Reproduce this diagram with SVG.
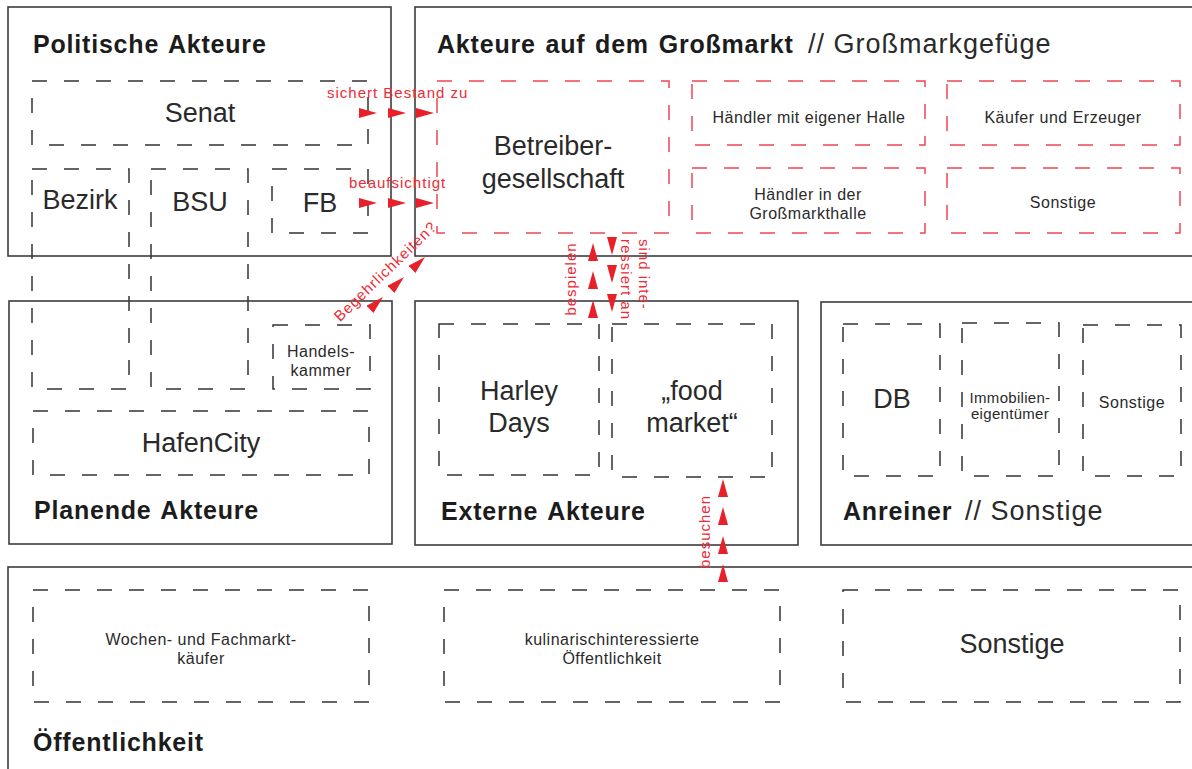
<svg xmlns="http://www.w3.org/2000/svg" width="1192" height="769" viewBox="0 0 1192 769">
<defs>
<style>
.frame{fill:none;stroke:#3c3c3c;stroke-width:1.6}
.dash{fill:none;stroke:#333;stroke-width:1.5;stroke-dasharray:15 17}
.rdash{fill:none;stroke:#f04652;stroke-width:1.5;stroke-dasharray:15 17}
text{font-family:"Liberation Sans",Arial,sans-serif;fill:#2a2a2a}
.h{font-size:25px;font-weight:bold;letter-spacing:0.8px;word-spacing:2px;fill:#1c1c1c}
.hr{font-weight:normal;font-size:27px;letter-spacing:1px;word-spacing:0;fill:#2a2a2a}
.big{font-size:27px;text-anchor:middle}
.sm{font-size:16px;letter-spacing:0.5px;text-anchor:middle}
.xs{font-size:15px;letter-spacing:0.3px;text-anchor:middle}
.red{font-size:15px;letter-spacing:1px;fill:#ee2a36}
.arrows{fill:none;stroke:none}
</style>
<marker id="tri" viewBox="0 0 18 10" refX="18" refY="5" markerWidth="18" markerHeight="10" markerUnits="userSpaceOnUse" orient="auto"><path d="M0,0 L18,5 L0,10 Z" fill="#e8202a"/></marker>
</defs>
<rect x="0" y="0" width="1192" height="769" fill="#fff"/>

<g id="politische-akteure"><rect class="frame" x="8" y="7" width="383" height="249"/><text class="h" x="33" y="53">Politische Akteure</text></g>
<g id="senat"><rect class="dash" x="32" y="81" width="336" height="64"/><text class="big" x="200" y="122">Senat</text></g>
<g id="bezirk"><rect class="dash" x="32" y="169" width="97" height="220"/><text class="big" x="80" y="209">Bezirk</text></g>
<g id="bsu"><rect class="dash" x="151" y="169" width="97" height="220"/><text class="big" x="200" y="211">BSU</text></g>
<g id="fb"><rect class="dash" x="272" y="169" width="96" height="64"/><text class="big" x="320" y="212">FB</text></g>

<g id="planende-akteure"><rect class="frame" x="9" y="301" width="383" height="243"/><text class="h" x="34" y="519">Planende Akteure</text></g>
<g id="handelskammer"><rect class="dash" x="273" y="325" width="97" height="64"/><text class="sm"><tspan x="321" y="357">Handels-</tspan><tspan x="321" y="376">kammer</tspan></text></g>
<g id="hafencity"><rect class="dash" x="33" y="411" width="336" height="64"/><text class="big" x="201" y="452">HafenCity</text></g>

<g id="grossmarkt"><rect class="frame" x="415" y="7" width="800" height="249"/><text class="h" x="437" y="53">Akteure auf dem Großmarkt<tspan class="hr" x="808">// Großmarkgefüge</tspan></text></g>
<g id="betreibergesellschaft"><rect class="rdash" x="437" y="81" width="232" height="152"/><text class="big"><tspan x="553" y="155">Betreiber-</tspan><tspan x="553" y="188">gesellschaft</tspan></text></g>
<g id="haendler-eigene-halle"><rect class="rdash" x="692" y="81" width="233" height="64"/><text class="sm" x="809" y="123">Händler mit eigener Halle</text></g>
<g id="kaeufer-erzeuger"><rect class="rdash" x="947" y="81" width="233" height="64"/><text class="sm" x="1063" y="123">Käufer und Erzeuger</text></g>
<g id="haendler-grossmarkthalle"><rect class="rdash" x="692" y="168" width="233" height="65"/><text class="sm"><tspan x="808" y="200">Händler in der</tspan><tspan x="808" y="219">Großmarkthalle</tspan></text></g>
<g id="gm-sonstige"><rect class="rdash" x="947" y="168" width="233" height="65"/><text class="sm" x="1063" y="208">Sonstige</text></g>

<g id="externe-akteure"><rect class="frame" x="415" y="301" width="383" height="244"/><text class="h" x="441" y="520">Externe Akteure</text></g>
<g id="harley-days"><rect class="dash" x="439" y="324" width="160" height="151"/><text class="big"><tspan x="519" y="400">Harley</tspan><tspan x="519" y="432">Days</tspan></text></g>
<g id="food-market"><rect class="dash" x="612" y="324" width="160" height="153"/><text class="big"><tspan x="692" y="400">„food</tspan><tspan x="692" y="432">market“</tspan></text></g>

<g id="anreiner"><rect class="frame" x="821" y="302" width="400" height="243"/><text class="h" x="843" y="520">Anreiner<tspan class="hr" x="965">// Sonstige</tspan></text></g>
<g id="db"><rect class="dash" x="843" y="324" width="97" height="152"/><text class="big" x="892" y="408">DB</text></g>
<g id="immobilieneigentuemer"><rect class="dash" x="962" y="323" width="97" height="153"/><text class="xs"><tspan x="1010" y="403">Immobilien-</tspan><tspan x="1010" y="419">eigentümer</tspan></text></g>
<g id="anreiner-sonstige"><rect class="dash" x="1083" y="325" width="98" height="151"/><text class="sm" x="1132" y="408">Sonstige</text></g>

<g id="oeffentlichkeit"><rect class="frame" x="8" y="567" width="1200" height="220"/><text class="h" x="33" y="751">Öffentlichkeit</text></g>
<g id="wochenmarkt"><rect class="dash" x="33" y="590" width="336" height="112"/><text class="sm"><tspan x="201" y="645">Wochen- und Fachmarkt-</tspan><tspan x="201" y="664">käufer</tspan></text></g>
<g id="kulinarisch"><rect class="dash" x="444" y="590" width="336" height="112"/><text class="sm"><tspan x="612" y="645">kulinarischinteressierte</tspan><tspan x="612" y="664">Öffentlichkeit</tspan></text></g>
<g id="oeffentlichkeit-sonstige"><rect class="dash" x="843" y="590" width="337" height="112"/><text class="big" x="1012" y="653">Sonstige</text></g>

<g id="connectors">
<path class="arrows" d="M377,113 L406,113 L434,113" marker-start="url(#tri)" marker-mid="url(#tri)" marker-end="url(#tri)"/>
<text class="red" x="327" y="98">sichert Bestand zu</text>
<path class="arrows" d="M377,203 L406,203 L434,203" marker-start="url(#tri)" marker-mid="url(#tri)" marker-end="url(#tri)"/>
<text class="red" x="349" y="188">beaufsichtigt</text>
<path class="arrows" d="M383,297 L404,277 L425,257" marker-start="url(#tri)" marker-mid="url(#tri)" marker-end="url(#tri)"/>
<text class="red" text-anchor="middle" transform="translate(389,275) rotate(-44)">Begehrlichkeiten?</text>
<path class="arrows" d="M593,300 L593,271 L593,243" marker-start="url(#tri)" marker-mid="url(#tri)" marker-end="url(#tri)"/>
<text class="red" text-anchor="middle" transform="translate(576,279) rotate(-90)">bespielen</text>
<path class="arrows" d="M612,255 L612,283 L612,312" marker-start="url(#tri)" marker-mid="url(#tri)" marker-end="url(#tri)"/>
<text class="red" transform="translate(639,239) rotate(90)"><tspan x="0" y="0">sind inte-</tspan><tspan x="0" y="18">ressiert an</tspan></text>
<path class="arrows" d="M723,564 L723,536 L723,507 L723,479" marker-start="url(#tri)" marker-mid="url(#tri)" marker-end="url(#tri)"/>
<text class="red" transform="translate(710,568) rotate(-90)">besuchen</text>
</g>
</svg>
